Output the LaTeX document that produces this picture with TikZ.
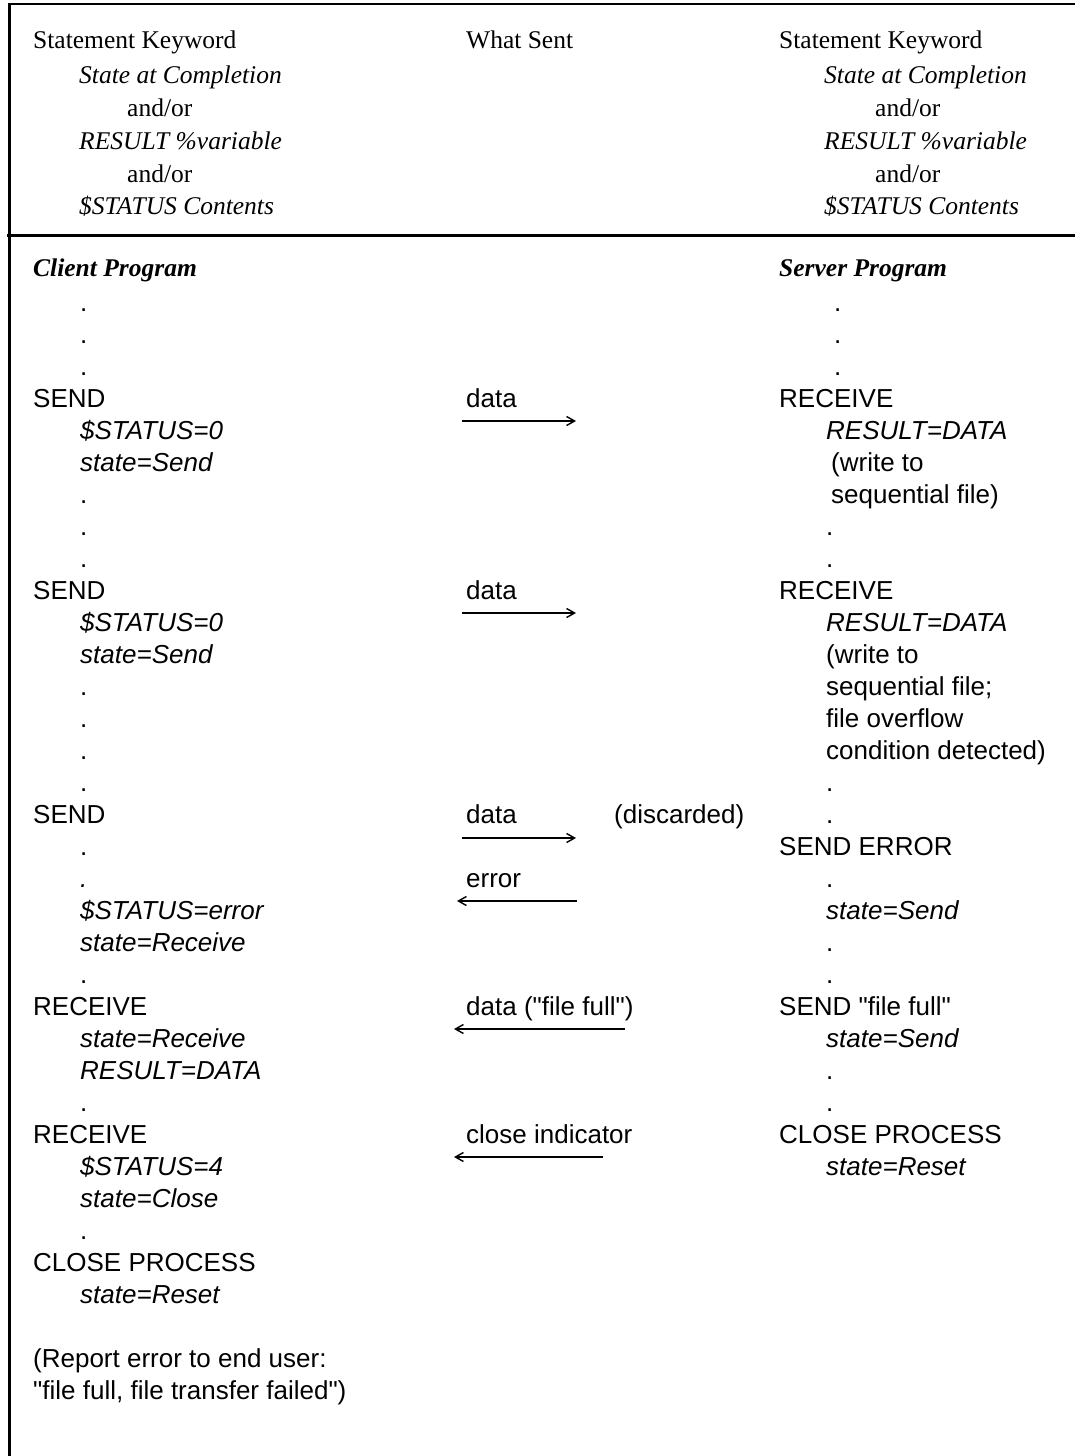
\documentclass[tikz,border=0pt]{standalone}
\usepackage{fontspec}
\setmainfont{Liberation Serif}
\setsansfont{Liberation Sans}[Ligatures=TeXOff]
\usepackage{tikz}
\usetikzlibrary{arrows.meta}

\begin{document}
\begin{tikzpicture}[x=1pt, y=-1pt, >={Straight Barb[length=8pt,width=9pt]},
    head/.style={anchor=base west, inner sep=0pt, font=\fontsize{25.5}{30}\selectfont\rmfamily},
    headit/.style={head, font=\fontsize{25.5}{30}\selectfont\rmfamily\itshape},
    prog/.style={head, font=\fontsize{25.5}{30}\selectfont\rmfamily\bfseries\itshape},
    stmt/.style={anchor=base west, inner sep=0pt, font=\fontsize{26}{32}\selectfont\sffamily},
    stmtit/.style={stmt, font=\fontsize{26}{32}\selectfont\sffamily\itshape},
    msg/.style={->, line width=1.4pt}]
    \useasboundingbox (0,0) rectangle (1075,1456);

    % Row baselines
    \def\rowy#1{311+32*#1}

    % Frame
    \draw[line width=2.6pt] (9.5,1456) -- (9.5,4) -- (1075,4);
    \draw[line width=3pt] (7,235) -- (1075,235);

    % Header
    \node[head]   (lkey)  at (33,48)  {Statement Keyword};
    \node[headit] (lstc)  at (79,83)  {State at Completion};
    \node[head]   (lor1)  at (127,116) {and/or};
    \node[headit] (lres)  at (79,149) {RESULT \%variable};
    \node[head]   (lor2)  at (127,182) {and/or};
    \node[headit] (lstat) at (79,214) {\$STATUS Contents};

    \node[head]   (what)  at (466,48) {What Sent};

    \node[head]   (rkey)  at (779,48)  {Statement Keyword};
    \node[headit] (rstc)  at (824,83)  {State at Completion};
    \node[head]   (ror1)  at (875,116) {and/or};
    \node[headit] (rres)  at (824,149) {RESULT \%variable};
    \node[head]   (ror2)  at (875,182) {and/or};
    \node[headit] (rstat) at (824,214) {\$STATUS Contents};

    % Client program
    \node[prog] (client) at (33,276) {Client Program};
    \foreach \k in {0,1,2,6,7,8,12,13,14,15,17,21,25,29}
        \node[stmt] (cdot\k) at (80,{\rowy{\k}}) {.};
    \node[stmtit] (cdot18) at (80,{\rowy{18}}) {.};
    \node[stmt]   (csend1) at (33,{\rowy{3}})  {SEND};
    \node[stmtit] (cst1)   at (80,{\rowy{4}})  {\$STATUS=0};
    \node[stmtit] (cstate1) at (80,{\rowy{5}}) {state=Send};
    \node[stmt]   (csend2) at (33,{\rowy{9}})  {SEND};
    \node[stmtit] (cst2)   at (80,{\rowy{10}}) {\$STATUS=0};
    \node[stmtit] (cstate2) at (80,{\rowy{11}}) {state=Send};
    \node[stmt]   (csend3) at (33,{\rowy{16}}) {SEND};
    \node[stmtit] (cst3)   at (80,{\rowy{19}}) {\$STATUS=error};
    \node[stmtit] (cstate3) at (80,{\rowy{20}}) {state=Receive};
    \node[stmt]   (crecv1) at (33,{\rowy{22}}) {RECEIVE};
    \node[stmtit] (cstate4) at (80,{\rowy{23}}) {state=Receive};
    \node[stmtit] (cres)   at (80,{\rowy{24}}) {RESULT=DATA};
    \node[stmt]   (crecv2) at (33,{\rowy{26}}) {RECEIVE};
    \node[stmtit] (cst4)   at (80,{\rowy{27}}) {\$STATUS=4};
    \node[stmtit] (cstate5) at (80,{\rowy{28}}) {state=Close};
    \node[stmt]   (cclose) at (33,{\rowy{30}}) {CLOSE PROCESS};
    \node[stmtit] (cstate6) at (80,{\rowy{31}}) {state=Reset};
    \node[stmt]   (report1) at (33,{\rowy{33}}) {(Report error to end user:};
    \node[stmt]   (report2) at (33,{\rowy{34}}) {"file full, file transfer failed")};

    % What sent
    \node[stmt] (msg1) at (466,{\rowy{3}})  {data};
    \node[stmt] (msg2) at (466,{\rowy{9}})  {data};
    \node[stmt] (msg3) at (466,{\rowy{16}}) {data};
    \node[stmt] (disc) at (614,{\rowy{16}}) {(discarded)};
    \node[stmt] (msg4) at (466,{\rowy{18}}) {error};
    \node[stmt] (msg5) at (466,{\rowy{22}}) {data ("file full")};
    \node[stmt] (msg6) at (466,{\rowy{26}}) {close indicator};

    \coordinate (a1s) at (462,{\rowy{3}+14});  \coordinate (a1e) at (576,{\rowy{3}+14});
    \coordinate (a2s) at (462,{\rowy{9}+14});  \coordinate (a2e) at (576,{\rowy{9}+14});
    \coordinate (a3s) at (462,{\rowy{16}+15}); \coordinate (a3e) at (576,{\rowy{16}+15});
    \coordinate (a4s) at (577,{\rowy{18}+14}); \coordinate (a4e) at (457,{\rowy{18}+14});
    \coordinate (a5s) at (625,{\rowy{22}+14}); \coordinate (a5e) at (454,{\rowy{22}+14});
    \coordinate (a6s) at (603,{\rowy{26}+14}); \coordinate (a6e) at (454,{\rowy{26}+14});
    \foreach \i in {1,...,6}
        \draw[msg] (a\i s) -- (a\i e);

    % Server program
    \node[prog] (server) at (779,276) {Server Program};
    \foreach \k in {0,1,2}
        \node[stmt] (sdot\k) at (834,{\rowy{\k}}) {.};
    \foreach \k in {7,8,15,16,18,20,21,24,25}
        \node[stmt] (sdot\k) at (826,{\rowy{\k}}) {.};
    \node[stmt]   (srecv1) at (779,{\rowy{3}})  {RECEIVE};
    \node[stmtit] (sres1)  at (826,{\rowy{4}})  {RESULT=DATA};
    \node[stmt]   (swr1)   at (831,{\rowy{5}})  {(write to};
    \node[stmt]   (sseq1)  at (831,{\rowy{6}})  {sequential file)};
    \node[stmt]   (srecv2) at (779,{\rowy{9}})  {RECEIVE};
    \node[stmtit] (sres2)  at (826,{\rowy{10}}) {RESULT=DATA};
    \foreach \t [count=\n from 11] in {{(write to}, {sequential file;}, {file overflow}, {condition detected)}}
        \node[stmt] (snote\n) at (826,{\rowy{\n}}) {\t};
    \node[stmt]   (serr)   at (779,{\rowy{17}}) {SEND ERROR};
    \node[stmtit] (sstate1) at (826,{\rowy{19}}) {state=Send};
    \node[stmt]   (sfull)  at (779,{\rowy{22}}) {SEND "file full"};
    \node[stmtit] (sstate2) at (826,{\rowy{23}}) {state=Send};
    \node[stmt]   (sclose) at (779,{\rowy{26}}) {CLOSE PROCESS};
    \node[stmtit] (sstate3) at (826,{\rowy{27}}) {state=Reset};
\end{tikzpicture}
\end{document}
